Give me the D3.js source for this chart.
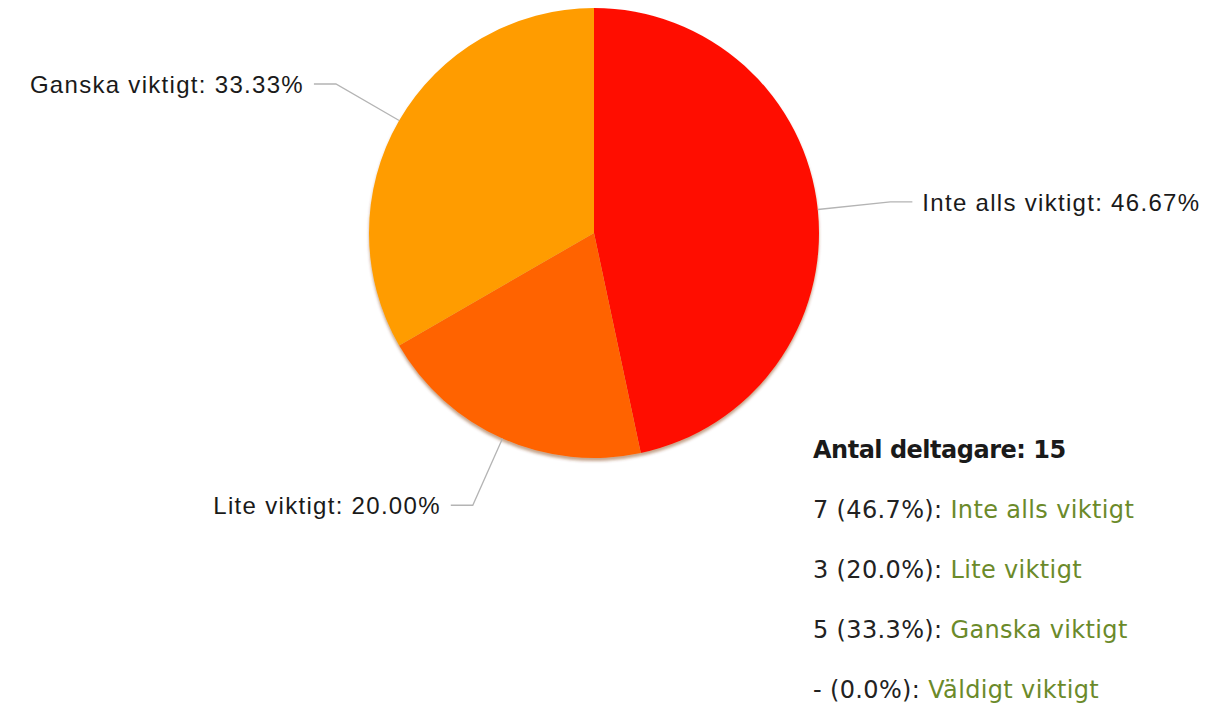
<!DOCTYPE html>
<html><head><meta charset="utf-8">
<script src="https://cdn.jsdelivr.net/npm/d3@7"></script>
<style>
html,body{margin:0;padding:0;background:#fff;}
svg{display:block;}
</style></head>
<body>
<svg id="c" width="1218" height="706"></svg>
<script>
const categories = ["Inte alls viktigt", "Lite viktigt", "Ganska viktigt", "Väldigt viktigt"];
const counts = [7, 3, 5, 0];
const pieLabels = ["Inte alls viktigt: 46.67%", "Lite viktigt: 20.00%", "Ganska viktigt: 33.33%", ""];
const legendTitle = "Antal deltagare: 15";
const legendCounts = ["7", "3", "5", "-"];
const legendPercents = ["(46.7%)", "(20.0%)", "(33.3%)", "(0.0%)"];
const colors = ["#ff1000", "#ff6400", "#ff9c00", "#cc0000"];

const svg = d3.select("#c");
const cx = 594, cy = 233, r = 225;

const defs = svg.append("defs");
const f = defs.append("filter").attr("id","sh").attr("x","-10%").attr("y","-10%").attr("width","120%").attr("height","125%");
f.append("feDropShadow").attr("dx",0).attr("dy",3).attr("stdDeviation",1.5).attr("flood-color","#7a3000").attr("flood-opacity",0.45);

const data = categories.map((c,i)=>({cat:c, v:counts[i], label:pieLabels[i], color:colors[i]}));
const pie = d3.pie().sort(null).value(d=>d.v).startAngle(0).endAngle(2*Math.PI);
const arcs = pie(data).filter(a=>a.data.v>0);
const arc = d3.arc().innerRadius(0).outerRadius(r);

const g = svg.append("g").attr("transform",`translate(${cx},${cy})`);
g.append("g").attr("filter","url(#sh)")
  .selectAll("path").data(arcs).join("path")
  .attr("d",arc).attr("fill",d=>d.data.color);

// leader lines & labels
const elbowR = 298, hLen = 22, gap = 10;
arcs.forEach(a=>{
  const m = (a.startAngle+a.endAngle)/2;
  const sx = r*Math.sin(m), sy = -r*Math.cos(m);
  const ex = elbowR*Math.sin(m), ey = -elbowR*Math.cos(m);
  const right = Math.sin(m) > 0;
  const hx = ex + (right? hLen : -hLen);
  g.append("polyline")
    .attr("points",[[sx,sy],[ex,ey],[hx,ey]].map(p=>p.join(",")).join(" "))
    .attr("fill","none").attr("stroke","#b4b4b4").attr("stroke-width",1.3);
  g.append("text")
    .attr("x", hx + (right? gap : -gap)).attr("y", ey).attr("dy","0.36em")
    .attr("text-anchor", right? "start":"end")
    .attr("font-family","Liberation Sans, Arial, sans-serif")
    .attr("font-size",24).attr("letter-spacing","1.3px")
    .attr("fill","#1a1a1a")
    .text(a.data.label);
});

// legend
const lx = 813, ly0 = 458, lstep = 60;
const lg = svg.append("g").attr("font-family","DejaVu Sans, Verdana, sans-serif").attr("font-size",24);
lg.append("text").attr("x",lx).attr("y",ly0).attr("font-weight","bold").attr("letter-spacing","-0.5px").attr("fill","#1a1a1a").text(legendTitle);
categories.forEach((c,i)=>{
  const t = lg.append("text").attr("x",lx).attr("y",ly0+lstep*(i+1)).attr("letter-spacing","0.35px");
  t.append("tspan").attr("fill","#222").text(`${legendCounts[i]} ${legendPercents[i]}: `);
  t.append("tspan").attr("fill","#6b8a2a").text(c);
});
</script>
</body></html>
